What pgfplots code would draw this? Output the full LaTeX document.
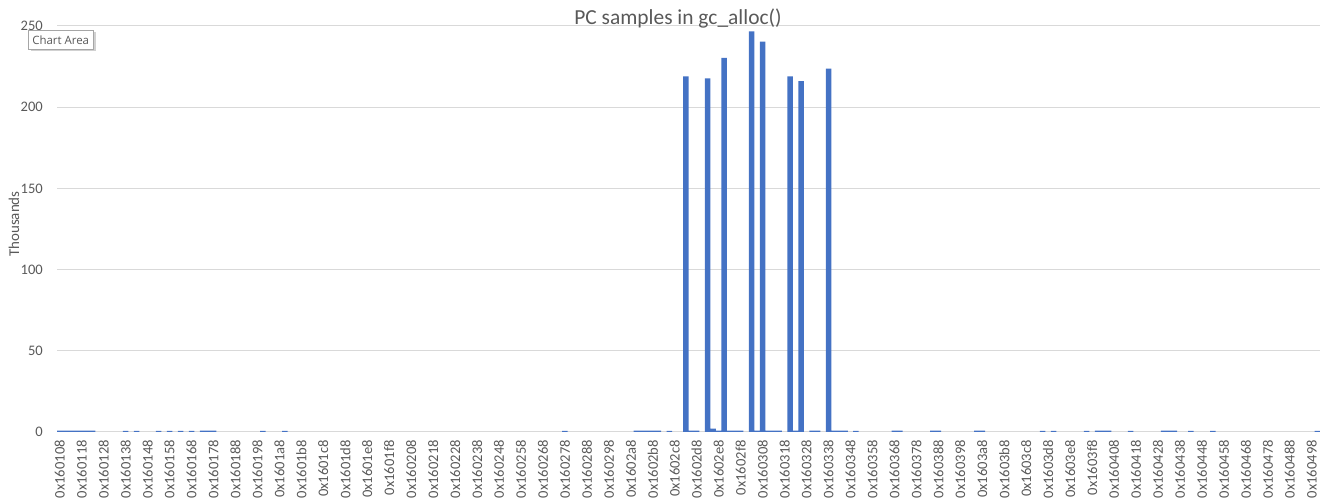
\documentclass[border=0pt]{standalone}
\usepackage{pgfplots}
\pgfplotsset{compat=1.18}
\usepackage{fontspec}
\setmainfont{Carlito}
\newfontfamily\tipfont{Open Sans}
\definecolor{barblue}{HTML}{4472C4}
\definecolor{gridgray}{HTML}{D9D9D9}
\definecolor{txtgray}{HTML}{595959}

\begin{document}
\begin{tikzpicture}[x=1bp,y=1bp]
\useasboundingbox (0,0) rectangle (1320,502);
\begin{axis}[
	at={(57bp,70bp)}, anchor=south west,
	scale only axis, width=1263bp, height=406bp,
	xmin=-0.5, xmax=229.5, ymin=0, ymax=250,
	axis line style={draw=none},
	ytick={0,50,...,250},
	ymajorgrids, major grid style={gridgray, line width=1bp},
	xtick={0,4,...,228},
	xticklabels={0x160108,0x160118,0x160128,0x160138,0x160148,0x160158,0x160168,0x160178,
		0x160188,0x160198,0x1601a8,0x1601b8,0x1601c8,0x1601d8,0x1601e8,0x1601f8,
		0x160208,0x160218,0x160228,0x160238,0x160248,0x160258,0x160268,0x160278,
		0x160288,0x160298,0x1602a8,0x1602b8,0x1602c8,0x1602d8,0x1602e8,0x1602f8,
		0x160308,0x160318,0x160328,0x160338,0x160348,0x160358,0x160368,0x160378,
		0x160388,0x160398,0x1603a8,0x1603b8,0x1603c8,0x1603d8,0x1603e8,0x1603f8,
		0x160408,0x160418,0x160428,0x160438,0x160448,0x160458,0x160468,0x160478,
		0x160488,0x160498},
	major tick length=0,
	tick label style={font=\fontsize{14.6}{16}\selectfont, text=txtgray},
	xticklabel style={rotate=90, anchor=east, inner sep=0pt},
	yticklabel style={anchor=east, inner sep=0pt},
	xticklabel shift=8bp, yticklabel shift=14bp,
	/pgf/number format/assume math mode=true,
	]
	% sample counts in thousands, one bar per 4-byte PC
	\addplot[ybar, bar width=1, fill=barblue, draw=none] coordinates {
		(0,0.8)(1,0.8)(2,0.8)(3,0.8)(4,0.8)(5,0.8)(6,0.8)
		(12,0.7)(14,0.7)(18,0.7)(20,0.7)(22,0.7)(24,0.7)(26,0.8)(27,0.8)(28,0.8)
		(37,0.7)(41,0.7)(92,0.7)
		(105,0.8)(106,0.8)(107,0.8)(108,0.8)(109,0.8)(111,0.7)
		(114,219.0)(115,0.8)(116,0.8)(118,217.8)(119,2.0)(120,0.8)(121,230.3)
		(122,0.8)(123,0.8)(124,0.8)(126,246.7)(127,0.8)(128,240.3)
		(129,0.8)(130,0.8)(131,0.8)(133,219.0)(134,0.8)(135,216.1)
		(137,0.8)(138,0.8)(140,223.7)(141,0.8)(142,0.8)(143,0.8)(145,0.7)
		(152,0.8)(153,0.8)(159,0.8)(160,0.8)(167,0.8)(168,0.8)
		(179,0.7)(181,0.7)(187,0.7)(189,0.8)(190,0.8)(191,0.8)(195,0.7)
		(201,0.8)(202,0.8)(203,0.8)(206,0.7)(210,0.7)(229,0.7)
	};
\end{axis}
\node[font=\fontsize{21.5}{24}\selectfont, text=txtgray, anchor=base] at (678,477) {PC samples in gc\_alloc()};
\node[rotate=90, font=\fontsize{15}{17}\selectfont, text=txtgray] at (14,278) {Thousands};
% the tooltip that was caught in the screenshot
\fill[black!18] (30.5,450.5) rectangle (95.5,469.5);
\node[draw=black!35, fill=white, font=\tipfont\fontsize{11.5}{13}\selectfont, text=txtgray,
	minimum width=65bp, minimum height=18.6bp, inner sep=0pt] at (60.7,462) {Chart Area};
\end{tikzpicture}
\end{document}
